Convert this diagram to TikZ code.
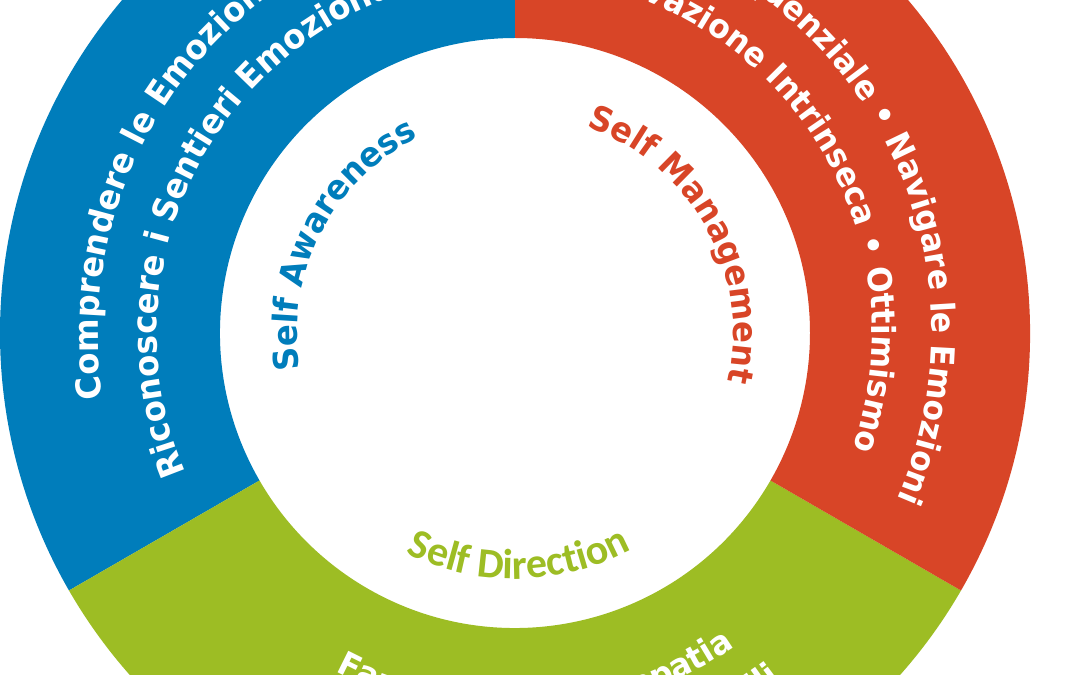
\documentclass[tikz,border=0pt]{standalone}
\usepackage{fontspec}
\usepackage{xcolor}
\usepackage{tikz}
\usetikzlibrary{calc, decorations.text}

\newfontfamily\ringfont{DejaVu Sans}[FakeStretch=0.95]
\newfontfamily\dirfont{Carlito}

\definecolor{sixblue}{RGB}{0,125,187}
\definecolor{sixred}{RGB}{216,69,39}
\definecolor{sixgreen}{RGB}{157,189,36}

\begin{document}
\begin{tikzpicture}[
    x=1pt, y=1pt,
    blueseg/.style={fill=sixblue},
    redseg/.style={fill=sixred},
    greenseg/.style={fill=sixgreen},
    bandtext/.style={decorate, decoration={text along path, text color=#1}},
    bandtext/.default=white
  ]
  \useasboundingbox (0,0) rectangle (1080,675);
  \clip (0,0) rectangle (1080,675);
  \fill[white] (0,0) rectangle (1080,675);
  \coordinate (ctr) at (515,342);

  % Ring segments
  \foreach \a/\b/\col in {90/210/blueseg, 210/330/greenseg, -30/90/redseg}
    \fill[\col] ($(ctr)+(\a:295)$) -- ($(ctr)+(\a:515)$)
      arc[start angle=\a, end angle=\b, radius=515]
      -- ($(ctr)+(\b:295)$) arc[start angle=\b, end angle=\a, radius=295] -- cycle;

  % Blue band
  \path[bandtext, decoration={text align=left,
      text={|\ringfont\fontsize{34}{34}\selectfont\bfseries|Comprendere le Emozioni}}]
    ($(ctr)+(189:417)$) arc[start angle=189, end angle=40, radius=417];
  \path[bandtext, decoration={text align=left,
      text={|\ringfont\fontsize{34}{34}\selectfont\bfseries|Riconoscere i Sentieri Emozionali}}]
    ($(ctr)+(203:358)$) arc[start angle=203, end angle=60, radius=358];

  % Red band
  \path[bandtext, decoration={text align=right,
      text={|\ringfont\fontsize{33}{33}\selectfont\bfseries|Pensiero Consequenziale • Navigare le Emozioni}}]
    ($(ctr)+(140:417)$) arc[start angle=140, end angle=-23.5, radius=417];
  \path[bandtext, decoration={text align=right,
      text={|\ringfont\fontsize{33}{33}\selectfont\bfseries|Motivazione Intrinseca • Ottimismo}}]
    ($(ctr)+(150:357)$) arc[start angle=150, end angle=-19, radius=357];

  % Green band
  \path[bandtext, decoration={text align=center,
      text={|\ringfont\fontsize{33}{33}\selectfont\bfseries|Fare Crescere l'Empatia}}]
    ($(ctr)+(193.5:383)$) arc[start angle=193.5, end angle=353.5, radius=383];
  \path[bandtext, decoration={text align=right,
      text={|\ringfont\fontsize{33}{33}\selectfont\bfseries|Perseguire Obiettivi Nobili}}]
    ($(ctr)+(200:437)$) arc[start angle=200, end angle=307.5, radius=437];

  % Inner labels
  \path[bandtext=sixblue, decoration={text align=center,
      text={|\ringfont\fontsize{34}{34}\selectfont\bfseries|Self Awareness}}]
    ($(ctr)+(233:218)$) arc[start angle=233, end angle=73, radius=218];
  \path[bandtext=sixred, decoration={text align=center,
      text={|\ringfont\fontsize{34}{34}\selectfont\bfseries|Self Management}}]
    ($(ctr)+(109:218)$) arc[start angle=109, end angle=-51, radius=218];
  \path[bandtext=sixgreen, decoration={text align=center,
      text={|\dirfont\fontsize{42}{42}\selectfont\bfseries|Self Direction}}]
    ($(ctr)+(191:246)$) arc[start angle=191, end angle=351, radius=246];
\end{tikzpicture}
\end{document}
